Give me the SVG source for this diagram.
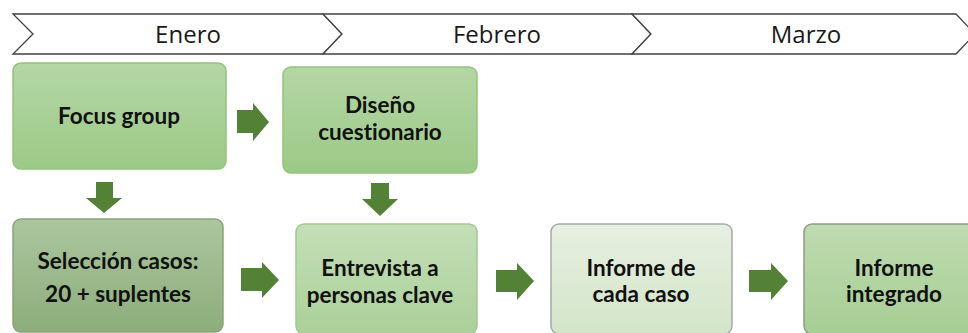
<svg xmlns="http://www.w3.org/2000/svg" width="968" height="333" viewBox="0 0 968 333">
<defs>
<linearGradient id="gGreen" x1="0" y1="0" x2="0" y2="1"><stop offset="0" stop-color="#b4d7a5"/><stop offset="1" stop-color="#9cc987"/></linearGradient>
<linearGradient id="gDark" x1="0" y1="0" x2="0" y2="1"><stop offset="0" stop-color="#abc69e"/><stop offset="1" stop-color="#8dad7b"/></linearGradient>
<linearGradient id="gLight" x1="0" y1="0" x2="0" y2="1"><stop offset="0" stop-color="#c5dfb8"/><stop offset="1" stop-color="#aad098"/></linearGradient>
<linearGradient id="gPale" x1="0" y1="0" x2="0" y2="1"><stop offset="0" stop-color="#e7efe2"/><stop offset="1" stop-color="#d3e5c8"/></linearGradient>
<linearGradient id="gMid" x1="0" y1="0" x2="0" y2="1"><stop offset="0" stop-color="#bfdbb1"/><stop offset="1" stop-color="#a6ce93"/></linearGradient>
</defs>
<style>
.chev{fill:#ffffff;stroke:#404040;stroke-width:1.3;stroke-linejoin:miter}
.month{font-family:"Open Sans","DejaVu Sans",sans-serif;font-size:24px;fill:#1a1a1a;text-anchor:middle}
.lbl{font-family:Lato,"Liberation Sans",sans-serif;font-weight:bold;font-size:22.5px;fill:#111111;text-anchor:middle;font-variant-ligatures:none}
.box{stroke-width:1.5}
.arr{fill:#538135}
</style>
<g id="timeline">
<polygon class="chev" points="13,14 323,14 342,34 323,54 13,54 33,34"/>
<polygon class="chev" points="323,14 632,14 651,34 632,54 323,54 342,34"/>
<polygon class="chev" points="632,14 956,14 975,34 956,54 632,54 651,34"/>
<text class="month" x="188" y="43">Enero</text>
<text class="month" x="497" y="43">Febrero</text>
<text class="month" x="806" y="43">Marzo</text>
</g>
<g id="n-focus">
<rect class="box" x="13" y="63" width="213" height="106" rx="8" fill="url(#gGreen)" stroke="#93c47d"/>
<text class="lbl" x="119" y="124">Focus group</text>
</g>
<g id="n-diseno">
<rect class="box" x="283" y="67" width="194" height="106" rx="8" fill="url(#gGreen)" stroke="#93c47d"/>
<text class="lbl" x="380" y="113">Diseño</text>
<text class="lbl" x="380" y="140">cuestionario</text>
</g>
<g id="n-seleccion">
<rect class="box" x="13" y="219" width="210" height="113" rx="8" fill="url(#gDark)" stroke="#89a577"/>
<text class="lbl" x="118" y="269">Selección casos:</text>
<text class="lbl" x="118" y="302">20 + suplentes</text>
</g>
<g id="n-entrevista">
<rect class="box" x="296" y="224" width="181" height="110" rx="8" fill="url(#gLight)" stroke="#a3c993"/>
<text class="lbl" x="380" y="276">Entrevista a</text>
<text class="lbl" x="380" y="303">personas clave</text>
</g>
<g id="n-informe-caso">
<rect class="box" x="551" y="224" width="181" height="110" rx="8" fill="url(#gPale)" stroke="#a8a8a8"/>
<text class="lbl" x="641" y="276">Informe de</text>
<text class="lbl" x="641" y="302">cada caso</text>
</g>
<g id="n-informe-integrado">
<rect class="box" x="804" y="224" width="172" height="110" rx="8" fill="url(#gMid)" stroke="#8f9a88"/>
<text class="lbl" x="894" y="276">Informe</text>
<text class="lbl" x="894" y="302">integrado</text>
</g>
<g id="connectors">
<path class="arr" d="M237,110 H253 V103 L269,122 L253,141 V133 H237 Z"/>
<path class="arr" d="M96,182 H113 V198 H122 L104,213 L86,198 H96 Z"/>
<path class="arr" d="M371,183 H389 V199 H398 L380,216 L362,199 H371 Z"/>
<path class="arr" d="M241,268 H262 V262 L279,280 L262,298 V291 H241 Z"/>
<path class="arr" d="M496,270 H517 V263 L534,281 L517,300 V292 H496 Z"/>
<path class="arr" d="M749,270 H771 V263 L788,281 L771,300 V292 H749 Z"/>
</g>
</svg>
